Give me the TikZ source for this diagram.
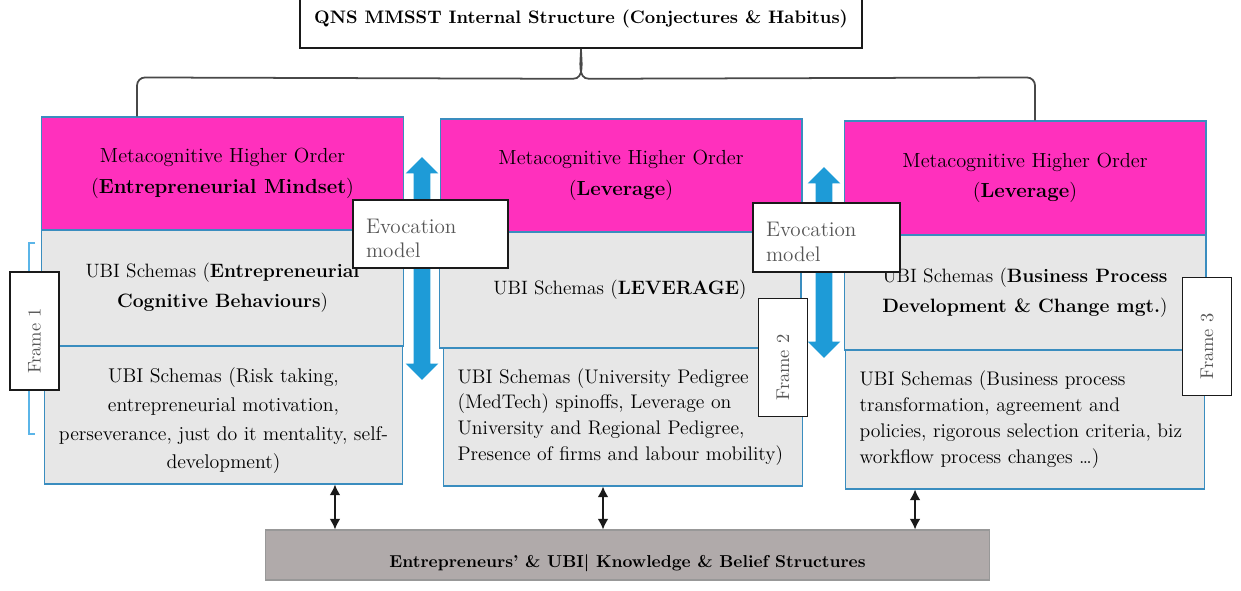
\documentclass[tikz,border=0pt]{standalone}
\usepackage{tikz}
\usetikzlibrary{arrows.meta,positioning,calc,shapes.arrows}
\definecolor{ink}{HTML}{1A1A1A}
\definecolor{metapink}{HTML}{FF30BD}
\definecolor{edgeblue}{HTML}{3A8DBF}
\definecolor{schemagray}{HTML}{E7E7E7}
\definecolor{evocblue}{HTML}{1E9BD7}
\definecolor{basegray}{HTML}{B0AAAA}
\definecolor{graphite}{HTML}{555555}
\definecolor{tickblue}{HTML}{5BB5E8}

\begin{document}
\begin{tikzpicture}[x=0.02cm,y=-0.02cm,
    meta/.style={draw=edgeblue,line width=0.6pt,fill=metapink,inner sep=0pt,
                 minimum width=7.24cm,minimum height=2.26cm,align=center,
                 font=\fontsize{11.6}{17.5}\selectfont},
    schema/.style={draw=edgeblue,line width=0.6pt,fill=schemagray,inner sep=0pt,
                   minimum width=7.24cm,minimum height=2.32cm,align=center,
                   font=\fontsize{11}{17}\selectfont},
    detail/.style={draw=edgeblue,line width=0.6pt,fill=schemagray,inner sep=0pt,
                   minimum width=7.18cm,minimum height=2.76cm},
    evoc/.style={draw=ink,line width=0.9pt,fill=white,inner xsep=0.26cm,inner ysep=0pt,
                 minimum height=1.36cm,align=left,text=graphite,
                 text height=0.66cm,text depth=0.7cm,
                 font=\fontsize{12}{14.2}\selectfont},
    framebox/.style={draw=ink,line width=0.9pt,fill=white,rotate=90,inner sep=0pt,
                     minimum width=2.36cm,minimum height=0.98cm,text=graphite,
                     text width=1.72cm,align=left,
                     font=\fontsize{10.5}{12}\selectfont},
    fatarrow/.style={double arrow,fill=evocblue,rotate=90,inner sep=0.16cm,
                     double arrow head extend=0.16cm,double arrow tip angle=90},
    link/.style={{Latex[length=6pt,width=6pt]}-{Latex[length=6pt,width=6pt]},
                 line width=0.8pt,ink},
    brace/.style={draw=ink!80,line width=1pt}]
  \useasboundingbox (0,0) rectangle (1241,591);

  \node[draw=ink,line width=0.9pt,minimum width=11.24cm,minimum height=1.16cm,
        font=\fontsize{10.3}{12}\selectfont\bfseries] (title) at (581,19)
        {QNS MMSST Internal Structure (Conjectures \& Habitus)};

  % three columns
  \node[meta] (p1) at (222.5,173.5) {Metacognitive Higher Order\\(\textbf{Entrepreneurial Mindset})};
  \node[schema] (s1) at (222.5,288) {UBI Schemas (\textbf{Entrepreneurial}\\\textbf{Cognitive Behaviours})};
  \node[detail,align=center,text height=2.26cm,text depth=0.1cm,
        font=\fontsize{11.3}{16.4}\selectfont] (b1) at (223.5,415)
        {UBI Schemas (Risk taking,\\entrepreneurial motivation,\\perseverance, just do it mentality, self-\\development)};

  \node[meta] (p2) at (621,175.5) {Metacognitive Higher Order\\(\textbf{Leverage})};
  \node[schema] (s2) at (620,290) {UBI Schemas (\textbf{LEVERAGE})};
  \node[detail,align=left,text width=6.62cm,inner xsep=0.24cm,
        font=\fontsize{11.2}{14.7}\selectfont] (b2) at (623,417)
        {\mbox{UBI Schemas (University Pedigree}\\\mbox{(MedTech) spinoffs, Leverage on}\\
         \mbox{University and Regional Pedigree,}\\\mbox{Presence of firms and labour mobility)}};

  \node[meta,minimum height=2.28cm] (p3) at (1025,178) {Metacognitive Higher Order\\(\textbf{Leverage})};
  \node[schema,minimum height=2.3cm] (s3) at (1025,292.5) {UBI Schemas (\textbf{Business Process}\\\textbf{Development \& Change mgt.})};
  \node[detail,minimum height=2.78cm,align=left,text width=6.62cm,inner xsep=0.24cm,
        font=\fontsize{11.2}{14.7}\selectfont] (b3) at (1025,419.5)
        {\mbox{UBI Schemas (Business process}\\\mbox{transformation, agreement and}\\
         \mbox{policies, rigorous selection criteria, biz}\\\mbox{workflow process changes \dots)}};

  \node[draw=ink!45,line width=0.6pt,fill=basegray,minimum width=14.5cm,minimum height=1cm,
        text height=0.5cm,text depth=0pt,font=\fontsize{9.8}{11}\selectfont\bfseries] (kb) at (627.5,555)
        {Entrepreneurs' \& UBI\textbar\ Knowledge \& Belief Structures};

  \draw[brace] ([xshift=-1.71cm]p1.north) -- ++(0,-31) to[out=90,in=180] ++(8,-8)
    -- ($(title.south)+(-8,30)$) to[out=0,in=-90] (title.south)
    to[out=-90,in=180] ++(8,30) -- ($([xshift=0.2cm]p3.north)+(-8,-43)$)
    to[out=0,in=90] ++(8,8) -- ([xshift=0.2cm]p3.north);

  \node[fatarrow,minimum height=4.46cm] (a1) at (422,268.5) {};
  \node[fatarrow,minimum height=3.82cm] (a2) at (824,262.5) {};

  \node[evoc,minimum width=3.1cm,text width=2.58cm] (e1) at (430.5,234) {Evocation\\model};
  \node[evoc,minimum width=2.94cm,text width=2.42cm,minimum height=1.38cm,
        text height=0.68cm] (e2) at (826.5,237.5) {Evocation\\model};

  \draw[tickblue,line width=0.7pt] (35,243) -- (29,243) -- (29,434) -- (35,434);
  \node[framebox] (f1) at (34.5,331) {Frame 1};
  \node[framebox] (f2) at (783,357.5) {Frame 2};
  \node[framebox] (f3) at (1207,336.5) {Frame 3};

  \draw[link] ([xshift=2.23cm]b1.south) -- ([xshift=2.23cm]b1.south |- kb.north);
  \draw[link] ([xshift=-0.4cm]b2.south) -- ([xshift=-0.4cm]b2.south |- kb.north);
  \draw[link] ([xshift=-2.2cm]b3.south) -- ([xshift=-2.2cm]b3.south |- kb.north);
\end{tikzpicture}
\end{document}
